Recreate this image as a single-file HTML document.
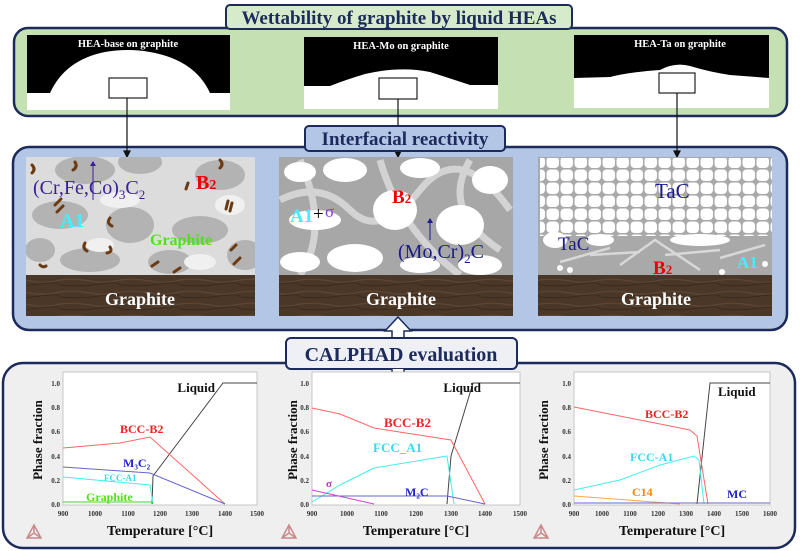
<!DOCTYPE html>
<html><head><meta charset="utf-8"><style>
html,body{margin:0;padding:0;background:#fff}
svg{display:block}
text{font-family:"Liberation Serif",serif}
</style></head><body>
<svg width="800" height="551" viewBox="0 0 800 551" xmlns="http://www.w3.org/2000/svg">
<defs>
<pattern id="wood" width="60" height="12" patternUnits="userSpaceOnUse">
<rect width="60" height="12" fill="#4b3727"/>
<path d="M0 4 Q15 2 30 5 T60 4" stroke="#5e4634" stroke-width="1.2" fill="none"/>
<path d="M0 9 Q20 11 40 8 T60 9" stroke="#3a2a1c" stroke-width="1" fill="none"/>
</pattern>
<pattern id="dots" width="14" height="13" patternUnits="userSpaceOnUse">
<rect width="14" height="13" fill="#a9a9a9"/>
<rect x="0.5" y="0.5" width="12.5" height="11.5" rx="4" fill="#fff"/>
</pattern>
<clipPath id="c1"><rect x="26" y="157" width="229" height="118"/></clipPath>
<clipPath id="c2"><rect x="279" y="157" width="234" height="118"/></clipPath>
<clipPath id="c3"><rect x="538" y="157" width="234" height="118"/></clipPath>
</defs>

<rect x="14" y="28" width="773" height="88" rx="14" fill="#c5e0b3" stroke="#1c2b5c" stroke-width="2.5"/>
<rect x="226" y="5" width="346" height="24" rx="4" fill="#d6ebcc" stroke="#1c2b5c" stroke-width="2"/>
<text x="399" y="24" font-size="19" font-weight="bold" fill="#1c2b5c" text-anchor="middle">Wettability of graphite by liquid HEAs</text>

<rect x="27" y="35" width="203" height="75" fill="#000"/>
<path d="M27 93 L50 93 Q65 60 105 52 Q128 48 150 52 Q195 60 210 93 L230 93 L230 110 L27 110Z" fill="#fff"/>
<text x="128" y="47" font-size="10.5" font-weight="bold" fill="#fff" text-anchor="middle">HEA-base on graphite</text>
<rect x="109" y="78" width="38" height="20" fill="#fff" stroke="#222" stroke-width="1.2"/>

<rect x="304" y="37" width="194" height="72" fill="#000"/>
<path d="M304 86 L330 86 Q345 80 365 74 Q400 66 430 72 Q455 80 470 85 L498 85 L498 109 L304 109Z" fill="#fff"/>
<text x="401" y="49" font-size="10.5" font-weight="bold" fill="#fff" text-anchor="middle">HEA-Mo on graphite</text>
<rect x="379" y="78" width="38" height="21" fill="#fff" stroke="#222" stroke-width="1.2"/>

<rect x="574" y="35" width="195" height="73" fill="#000"/>
<path d="M574 78 L610 77 Q630 72 660 70 Q675 62 690 66 Q710 72 730 75 L769 78 L769 108 L574 108Z" fill="#fff"/>
<text x="680" y="47" font-size="10.5" font-weight="bold" fill="#fff" text-anchor="middle">HEA-Ta on graphite</text>
<rect x="659" y="73" width="36" height="20" fill="#fff" stroke="#222" stroke-width="1.2"/>

<rect x="13" y="147" width="774" height="183" rx="16" fill="#b4c6e6" stroke="#1c2b5c" stroke-width="2.5"/>

<g stroke="#111" stroke-width="1.2" fill="#111">
<line x1="127" y1="98" x2="127" y2="152"/><path d="M124 151 L130 151 L127 157Z"/>
<line x1="398" y1="99" x2="398" y2="152"/><path d="M395 151 L401 151 L398 157Z"/>
<line x1="677" y1="93" x2="677" y2="152"/><path d="M674 151 L680 151 L677 157Z"/>
</g>

<rect x="305" y="126" width="200" height="25" rx="4" fill="#b4c6e6" stroke="#1c2b5c" stroke-width="2"/>
<text x="405" y="145" font-size="19" font-weight="bold" fill="#1c2b5c" text-anchor="middle">Interfacial reactivity</text>

<!-- Micrograph 1 -->
<rect x="26" y="157" width="229" height="118" fill="#dcdcdc"/>
<g clip-path="url(#c1)" fill="#b3b3b3">
<ellipse cx="85" cy="170" rx="30" ry="14"/><ellipse cx="140" cy="162" rx="22" ry="12"/>
<ellipse cx="220" cy="175" rx="25" ry="15"/><ellipse cx="60" cy="215" rx="28" ry="14"/>
<ellipse cx="130" cy="225" rx="24" ry="18"/><ellipse cx="200" cy="230" rx="28" ry="14"/>
<ellipse cx="90" cy="260" rx="30" ry="12"/><ellipse cx="170" cy="262" rx="22" ry="12"/>
<ellipse cx="245" cy="255" rx="18" ry="15"/><ellipse cx="40" cy="250" rx="15" ry="12"/>
<g fill="#f0f0f0"><ellipse cx="120" cy="200" rx="20" ry="8"/><ellipse cx="230" cy="205" rx="15" ry="10"/><ellipse cx="100" cy="245" rx="14" ry="7"/><ellipse cx="200" cy="262" rx="16" ry="8"/></g>
<g stroke="#6b3a12" stroke-width="3" fill="none" stroke-linecap="round">
<path d="M32 165 q4 4 0 8"/><path d="M75 162 q3 5 -2 8"/><path d="M220 160 q4 4 0 8"/><path d="M55 205 l6 -6"/><path d="M57 212 l6 -6"/>
<path d="M110 218 q-4 5 2 8"/><path d="M85 243 q-3 5 2 8"/><path d="M110 247 q3 5 -3 6"/><path d="M226 209 l2 -8"/><path d="M230 211 l2 -8"/>
<path d="M236 245 l-5 5"/><path d="M240 258 l-6 6"/><path d="M158 262 l-6 4"/><path d="M180 268 l-6 4"/><path d="M40 265 q3 3 6 1"/><path d="M188 183 l-2 6"/>
</g></g>
<rect x="26" y="275" width="229" height="41" fill="url(#wood)"/>
<text x="33" y="194" font-size="20" fill="#3a1f9a">(Cr,Fe,Co)<tspan font-size="13" dy="5">3</tspan><tspan dy="-5">C</tspan><tspan font-size="13" dy="5">2</tspan></text>
<line x1="93" y1="200" x2="93" y2="165" stroke="#3a1f9a"/><path d="M90 166 L96 166 L93 161Z" fill="#3a1f9a"/>
<text x="196" y="189" font-size="20" font-weight="bold" fill="#e00">B<tspan font-size="14">2</tspan></text>
<text x="60" y="227" font-size="20" font-weight="bold" fill="#4ef">A1</text>
<text x="150" y="245" font-size="16" font-weight="bold" fill="#5d2">Graphite</text>
<text x="140" y="305" font-size="18" font-weight="bold" fill="#fff" text-anchor="middle">Graphite</text>

<!-- Micrograph 2 -->
<rect x="279" y="157" width="234" height="118" fill="#a7a7a7"/>
<g clip-path="url(#c2)">
<g fill="none" stroke="#d3d3d3" stroke-width="7"><path d="M280 200 Q320 180 350 210 T420 190 T510 210"/><path d="M300 160 Q330 230 300 275"/><path d="M380 160 Q400 230 460 275"/><path d="M470 160 Q440 210 500 250"/></g>
<g fill="#fff">
<ellipse cx="300" cy="172" rx="16" ry="10"/><ellipse cx="345" cy="170" rx="22" ry="12"/><ellipse cx="420" cy="168" rx="20" ry="10"/><ellipse cx="490" cy="180" rx="18" ry="14"/>
<ellipse cx="315" cy="220" rx="26" ry="10"/><ellipse cx="395" cy="210" rx="22" ry="20"/><ellipse cx="460" cy="225" rx="24" ry="20"/>
<ellipse cx="300" cy="262" rx="20" ry="10"/><ellipse cx="355" cy="258" rx="28" ry="14"/><ellipse cx="420" cy="265" rx="20" ry="8"/><ellipse cx="480" cy="265" rx="22" ry="10"/>
</g></g>
<rect x="279" y="275" width="234" height="41" fill="url(#wood)"/>
<text x="290" y="222" font-size="19" font-weight="bold" fill="#4ef">A1</text>
<text x="313" y="220" font-size="19" fill="#000">+</text><text x="325" y="217" font-size="17" fill="#8a3ad0">σ</text>
<text x="392" y="203" font-size="19" font-weight="bold" fill="#e00">B<tspan font-size="13">2</tspan></text>
<text x="398" y="258" font-size="20" fill="#1a1a8a">(Mo,Cr)<tspan font-size="13" dy="5">2</tspan><tspan dy="-5">C</tspan></text>
<line x1="430" y1="240" x2="430" y2="222" stroke="#1a1a8a"/><path d="M427 223 L433 223 L430 218Z" fill="#1a1a8a"/>
<text x="401" y="305" font-size="18" font-weight="bold" fill="#fff" text-anchor="middle">Graphite</text>

<!-- Micrograph 3 -->
<rect x="538" y="157" width="234" height="118" fill="#a9a9a9"/>
<g clip-path="url(#c3)">
<rect x="540" y="158" width="232" height="78" fill="url(#dots)"/>
<path d="M538 236 L580 236 Q620 248 660 236 L772 236 L772 240 L538 240Z" fill="#a9a9a9"/>
<g fill="#fff">
<ellipse cx="555" cy="240" rx="12" ry="8"/><ellipse cx="600" cy="240" rx="14" ry="6"/><ellipse cx="700" cy="240" rx="30" ry="6"/>
<circle cx="560" cy="268" r="3"/><circle cx="570" cy="270" r="3"/><circle cx="722" cy="272" r="3"/><circle cx="765" cy="264" r="3"/>
</g>
<g stroke="#d8d8d8" stroke-width="2.5" fill="none"><path d="M560 262 L610 248"/><path d="M620 265 L655 240 L700 270"/><path d="M665 255 L720 250"/><path d="M720 258 L765 245"/><path d="M590 255 L640 252"/></g>
</g>
<rect x="538" y="275" width="234" height="41" fill="url(#wood)"/>
<text x="655" y="198" font-size="21" fill="#1a1a8a">TaC</text>
<text x="558" y="250" font-size="19" fill="#1a1a8a">TaC</text>
<text x="653" y="274" font-size="19" font-weight="bold" fill="#e00">B<tspan font-size="13">2</tspan></text>
<text x="737" y="268" font-size="17" font-weight="bold" fill="#4ef">A1</text>
<text x="656" y="305" font-size="18" font-weight="bold" fill="#fff" text-anchor="middle">Graphite</text>

<!-- Bottom panel -->
<rect x="3" y="363" width="792" height="185" rx="20" fill="#efefef" stroke="#1c2b5c" stroke-width="2.5"/>

<path d="M398 317 L411 331 L404 331 L404 340 L392 340 L392 331 L385 331Z" fill="#fff" stroke="#1c2b5c" stroke-width="1.5"/>
<rect x="286" y="338" width="231" height="31" rx="5" fill="#eef0f5" stroke="#1c2b5c" stroke-width="2"/>
<text x="401" y="361" font-size="20" font-weight="bold" fill="#1c2b5c" text-anchor="middle">CALPHAD evaluation</text>
<path d="M392 369 L392 380 L385 380 L398 392 L411 380 L404 380 L404 369" fill="#fff" stroke="#1c2b5c" stroke-width="1.5"/>

<!-- Plot 1 -->
<rect x="63" y="372" width="194" height="133" fill="#fff" stroke="#bbb" stroke-width="0.8"/>
<g font-size="7" fill="#333" text-anchor="end" font-weight="bold">
<text x="60" y="386">1.0</text><text x="60" y="410">0.8</text><text x="60" y="434">0.6</text><text x="60" y="459">0.4</text><text x="60" y="483">0.2</text><text x="60" y="507">0.0</text></g>
<g font-size="7" fill="#333" text-anchor="middle" font-weight="bold">
<text x="63" y="516">900</text><text x="95" y="516">1000</text><text x="128" y="516">1100</text><text x="160" y="516">1200</text><text x="192" y="516">1300</text><text x="225" y="516">1400</text><text x="257" y="516">1500</text></g>
<g fill="none" stroke-width="1">
<polyline stroke="#444" points="152,504 153,476 223,383 257,383"/>
<polyline stroke="#f66" points="63,448 120,443 150,437 225,504"/>
<polyline stroke="#66c" points="63,467 150,473 225,504"/>
<polyline stroke="#4ee" points="63,477 150,485 153,504"/>
<polyline stroke="#4c4" points="63,502 152,502 153,504"/>
</g>
<text x="215" y="392" font-size="13" font-weight="bold" fill="#111" text-anchor="end">Liquid</text>
<text x="120" y="433" font-size="12" font-weight="bold" fill="#e22">BCC-B2</text>
<text x="123" y="467" font-size="12" font-weight="bold" fill="#22c">M₃C₂</text>
<text x="104" y="481" font-size="9" font-weight="bold" fill="#3de">FCC-A1</text>
<text x="86" y="501" font-size="12" font-weight="bold" fill="#5d2">Graphite</text>
<text x="42" y="440" font-size="13" font-weight="bold" fill="#111" text-anchor="middle" transform="rotate(-90 42 440)">Phase fraction</text>
<text x="160" y="535" font-size="14" font-weight="bold" fill="#111" text-anchor="middle">Temperature [°C]</text>

<!-- Plot 2 -->
<rect x="312" y="372" width="208" height="133" fill="#fff" stroke="#bbb" stroke-width="0.8"/>
<g font-size="7" fill="#333" text-anchor="end" font-weight="bold">
<text x="309" y="386">1.0</text><text x="309" y="410">0.8</text><text x="309" y="434">0.6</text><text x="309" y="459">0.4</text><text x="309" y="483">0.2</text><text x="309" y="507">0.0</text></g>
<g font-size="7" fill="#333" text-anchor="middle" font-weight="bold">
<text x="312" y="516">900</text><text x="347" y="516">1000</text><text x="381" y="516">1100</text><text x="416" y="516">1200</text><text x="451" y="516">1300</text><text x="485" y="516">1400</text><text x="520" y="516">1500</text></g>
<g fill="none" stroke-width="1">
<polyline stroke="#444" points="447,504 451,456 473,383 520,383"/>
<polyline stroke="#f66" points="312,408 340,414 374,428 451,440 485,504"/>
<polyline stroke="#4ee" points="312,502 340,485 374,468 447,456 454,504"/>
<polyline stroke="#66c" points="312,496 447,496 485,504"/>
<polyline stroke="#c4c" points="312,490 374,504"/>
</g>
<text x="481" y="392" font-size="13" font-weight="bold" fill="#111" text-anchor="end">Liquid</text>
<text x="384" y="427" font-size="13" font-weight="bold" fill="#e22">BCC-B2</text>
<text x="373" y="452" font-size="13" font-weight="bold" fill="#3de">FCC_A1</text>
<text x="326" y="487" font-size="11" font-weight="bold" fill="#b3b">σ</text>
<text x="405" y="496" font-size="12" font-weight="bold" fill="#22c">M₂C</text>
<text x="297" y="440" font-size="13" font-weight="bold" fill="#111" text-anchor="middle" transform="rotate(-90 297 440)">Phase fraction</text>
<text x="416" y="535" font-size="14" font-weight="bold" fill="#111" text-anchor="middle">Temperature [°C]</text>

<!-- Plot 3 -->
<rect x="574" y="372" width="196" height="133" fill="#fff" stroke="#bbb" stroke-width="0.8"/>
<g font-size="7" fill="#333" text-anchor="end" font-weight="bold">
<text x="571" y="386">1.0</text><text x="571" y="410">0.8</text><text x="571" y="434">0.6</text><text x="571" y="459">0.4</text><text x="571" y="483">0.2</text><text x="571" y="507">0.0</text></g>
<g font-size="7" fill="#333" text-anchor="middle" font-weight="bold">
<text x="574" y="516">900</text><text x="602" y="516">1000</text><text x="630" y="516">1100</text><text x="658" y="516">1200</text><text x="686" y="516">1300</text><text x="714" y="516">1400</text><text x="742" y="516">1500</text><text x="770" y="516">1600</text></g>
<g fill="none" stroke-width="1">
<polyline stroke="#444" points="697,504 710,383 770,383"/>
<polyline stroke="#f66" points="574,407 640,420 690,430 697,436 708,504"/>
<polyline stroke="#4ee" points="574,490 620,480 660,465 694,456 699,460 704,504"/>
<polyline stroke="#fa4" points="574,496 680,504"/>
<polyline stroke="#66c" points="574,503 770,503"/>
</g>
<text x="718" y="396" font-size="13" font-weight="bold" fill="#111">Liquid</text>
<text x="645" y="418" font-size="12" font-weight="bold" fill="#e22">BCC-B2</text>
<text x="630" y="461" font-size="12" font-weight="bold" fill="#3de">FCC-A1</text>
<text x="632" y="496" font-size="12" font-weight="bold" fill="#f80">C14</text>
<text x="727" y="498" font-size="12" font-weight="bold" fill="#22c">MC</text>
<text x="548" y="440" font-size="13" font-weight="bold" fill="#111" text-anchor="middle" transform="rotate(-90 548 440)">Phase fraction</text>
<text x="672" y="535" font-size="14" font-weight="bold" fill="#111" text-anchor="middle">Temperature [°C]</text>

<g fill="none" stroke="#c98a8a" stroke-width="1.5">
<path d="M34 525 L27 538 L41 538Z M34 525 L34 533 L27 538 M34 533 L41 538"/>
<path d="M289 525 L282 538 L296 538Z M289 525 L289 533 L282 538 M289 533 L296 538"/>
<path d="M541 525 L534 538 L548 538Z M541 525 L541 533 L534 538 M541 533 L548 538"/>
</g>
</svg>
</body></html>
